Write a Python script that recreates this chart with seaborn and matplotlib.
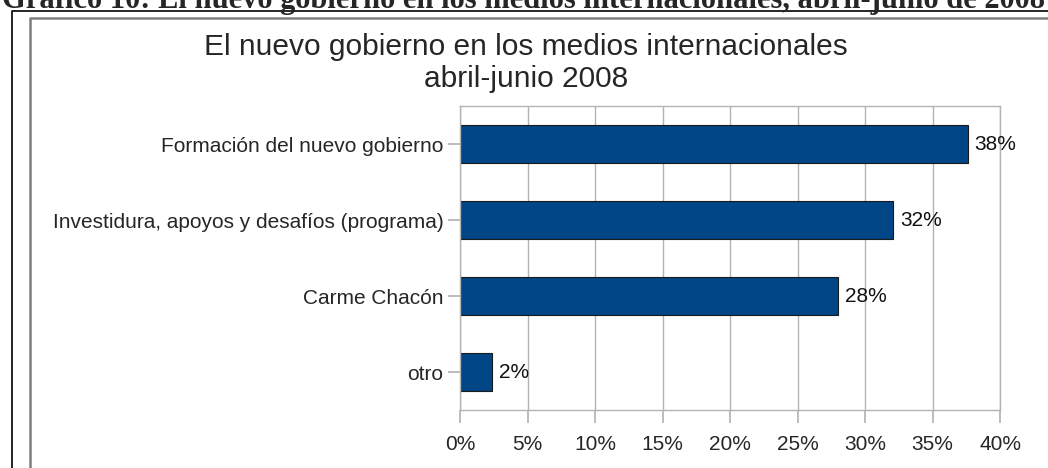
import numpy as np
import pandas as pd
import seaborn as sns
import matplotlib.pyplot as plt
from matplotlib.lines import Line2D

# Data
categories = ["Formación del nuevo gobierno",
              "Investidura, apoyos y desafíos (programa)",
              "Carme Chacón",
              "otro"]
shares = [37.6, 32.1, 28.0, 2.4]
bar_labels = ["38%", "32%", "28%", "2%"]
xticks = [0, 5, 10, 15, 20, 25, 30, 35, 40]
xtick_labels = ["0%", "5%", "10%", "15%", "20%", "25%", "30%", "35%", "40%"]

df = pd.DataFrame({"tema": categories, "pct": shares})

sns.set_theme(style="white")
plt.rcParams["font.family"] = ["Liberation Sans", "DejaVu Sans"]

fig = plt.figure(figsize=(10.48, 4.68), dpi=100)
ax = fig.add_axes([460 / 1048, 1 - 410 / 468, 540 / 1048, 304 / 468])

sns.barplot(data=df, x="pct", y="tema", orient="h", color="#004586",
            saturation=1, width=0.5, edgecolor="#1a1a1a", linewidth=0.8, ax=ax)

ax.set_xlim(0, 40)
ax.set_ylim(3.5, -0.5)
ax.set_xticks(xticks)
ax.set_xticklabels(xtick_labels, fontsize=15)
ax.tick_params(axis="y", labelsize=15, length=9, color="#b3b3b3", pad=3, left=True)
ax.tick_params(axis="x", length=9, color="#b3b3b3", pad=9, bottom=True)
ax.set_xlabel("")
ax.set_ylabel("")
ax.grid(axis="x", color="#b3b3b3", linewidth=1)
ax.set_axisbelow(True)
for s in ax.spines.values():
    s.set_color("#b3b3b3")
    s.set_linewidth(1)

for i, (v, lab) in enumerate(zip(shares, bar_labels)):
    ax.annotate(lab, (v, i), xytext=(5, 0), textcoords="offset points",
                va="center", ha="left", fontsize=15, color="#111111")

# chart title
fig.text(526 / 1048, 1 - 47 / 468, "El nuevo gobierno en los medios internacionales",
         ha="center", va="center", fontsize=21.5)
fig.text(526 / 1048, 1 - 79 / 468, "abril-junio 2008",
         ha="center", va="center", fontsize=21.5)

# document caption, cut off at the top of the image
fig.text(2 / 1048, 1 - 8 / 468,
         "Gráfico 10: El nuevo gobierno en los medios internacionales, abril-junio de 2008",
         ha="left", va="baseline", fontsize=22, fontweight="bold",
         family=["Liberation Serif", "DejaVu Serif"])

# frames around the chart object
fig.add_artist(Line2D([12 / 1048, 12 / 1048, 1.0], [0, 1 - 11 / 468, 1 - 11 / 468],
                      color="black", linewidth=1.2))
fig.add_artist(Line2D([30 / 1048, 30 / 1048, 1.0], [0, 1 - 18 / 468, 1 - 18 / 468],
                      color="#7f7f7f", linewidth=1.8))

fig.savefig("out.png", dpi=100)
